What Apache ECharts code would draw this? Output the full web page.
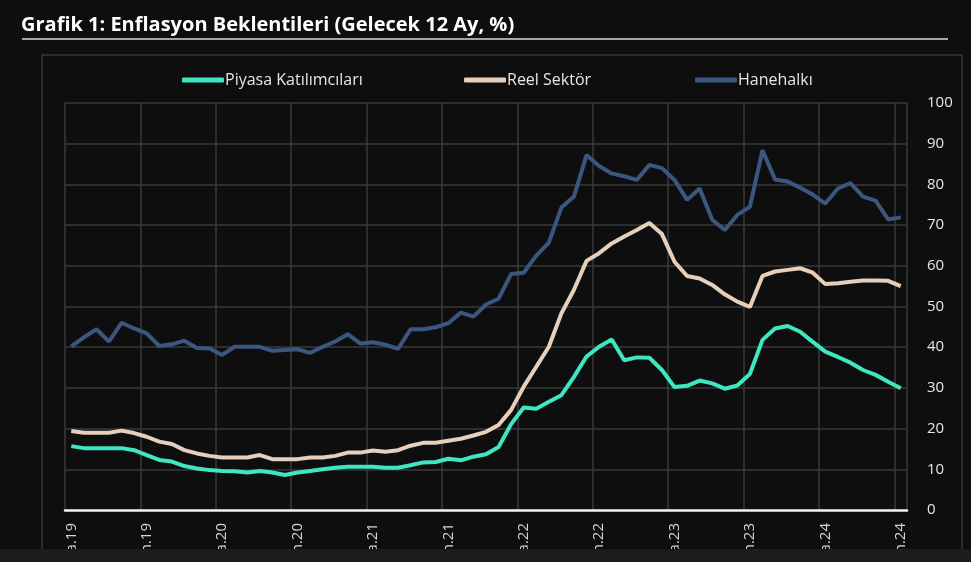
<!DOCTYPE html>
<html>
<head>
<meta charset="utf-8">
<script src="https://cdn.jsdelivr.net/npm/echarts@6/dist/echarts.min.js"></script>
<style>
html,body{margin:0;padding:0;background:#0e0e0e;}
#c{width:971px;height:562px;}
</style>
</head>
<body>
<div id="c"></div>
<script>
const months = ['Oca','Şub','Mar','Nis','May','Haz','Tem','Ağu','Eyl','Eki','Kas','Ara'];
const years = ['19','20','21','22','23','24'];
const categories = [];
for (const y of years) for (const m of months) categories.push(m + '.' + y);
categories.length = 67; // Oca.19 – Tem.24

const piyasa = [15.7,15.2,15.2,15.2,15.2,14.7,13.5,12.3,11.9,10.8,10.2,9.8,9.6,9.5,9.2,9.6,9.2,8.6,9.2,9.6,10.0,10.4,10.6,10.6,
  10.6,10.4,10.4,11.0,11.7,11.8,12.6,12.2,13.1,13.7,15.5,21.1,25.2,24.9,26.6,28.2,32.7,37.7,40.1,41.9,36.8,37.5,37.4,34.4,
  30.2,30.5,31.8,31.1,29.8,30.6,33.4,41.8,44.6,45.2,43.8,41.3,38.9,37.6,36.2,34.4,33.2,31.5,29.9];
const reel = [19.4,19.0,19.0,19.0,19.5,18.9,18.0,16.8,16.2,14.7,13.9,13.3,12.9,12.9,12.9,13.5,12.5,12.5,12.5,12.9,12.9,13.3,14.1,14.1,
  14.6,14.3,14.7,15.8,16.5,16.5,17.0,17.5,18.3,19.2,20.9,24.6,30.3,35.2,40.1,48.3,54.1,61.2,63.1,65.5,67.2,68.8,70.5,67.8,
  61.0,57.5,56.9,55.3,53.0,51.2,49.9,57.5,58.6,59.0,59.4,58.3,55.5,55.7,56.1,56.4,56.4,56.3,55.0];
const hane = [40.2,42.4,44.4,41.4,46.0,44.6,43.4,40.3,40.7,41.6,39.8,39.7,38.1,40.1,40.1,40.1,39.1,39.3,39.5,38.6,40.1,41.4,43.2,40.9,
  41.2,40.6,39.6,44.4,44.4,44.9,45.9,48.5,47.5,50.5,51.9,58.0,58.3,62.5,65.7,74.3,77.0,87.2,84.5,82.7,82.0,81.1,84.8,84.0,
  81.1,76.2,79.0,71.3,68.8,72.5,74.5,88.4,81.2,80.7,79.2,77.5,75.3,79.0,80.3,77.0,76.0,71.4,71.9];
const yTicks = {min: 0, max: 100, interval: 10};

const seriesNames = ['Piyasa Katılımcıları', 'Reel Sektör', 'Hanehalkı'];
const colors = ['#3ee6c1', '#e6cfbb', '#3b5780'];

const chart = echarts.init(document.getElementById('c'));
const legendBase = {
  top: 67, itemWidth: 42, itemHeight: 5, itemGap: 2,
  icon: 'roundRect',
  textStyle: {color: '#e6e6e6', fontSize: 16, fontFamily: 'Open Sans', padding: [0,0,0,-4]}
};
chart.setOption({
  backgroundColor: '#0e0e0e',
  animation: false,
  title: {
    text: 'Grafik 1: Enflasyon Beklentileri (Gelecek 12 Ay, %)',
    left: 16, top: 10,
    textStyle: {color: '#ffffff', fontSize: 20, fontWeight: 'bold', fontFamily: 'Open Sans'}
  },
  legend: [
    Object.assign({}, legendBase, {left: 177, data: [seriesNames[0]]}),
    Object.assign({}, legendBase, {left: 459, data: [seriesNames[1]]}),
    Object.assign({}, legendBase, {left: 690, data: [seriesNames[2]]})
  ],
  grid: {left: 65, right: 64, top: 103, bottom: 52, containLabel: false, outerBoundsMode: 'none'},
  xAxis: {
    type: 'category',
    data: categories,
    boundaryGap: true,
    axisLine: {lineStyle: {color: '#f2f2f2', width: 2.5}},
    axisTick: {show: false, interval: 5},
    axisLabel: {interval: 5, rotate: 90, color: '#d6d6d6', fontSize: 15, margin: 13, fontFamily: 'Open Sans'},
    splitLine: {show: true, interval: 5, lineStyle: {color: '#3a3a3a', width: 1.5}}
  },
  yAxis: {
    type: 'value',
    position: 'right',
    min: yTicks.min, max: yTicks.max, interval: yTicks.interval,
    axisLine: {show: false},
    axisTick: {show: false},
    axisLabel: {color: '#e6e6e6', fontSize: 15, margin: 20, fontFamily: 'Open Sans'},
    splitLine: {lineStyle: {color: '#3a3a3a', width: 1.5}}
  },
  series: [
    {name: seriesNames[0], type: 'line', data: piyasa, symbol: 'none', z: 5,
     lineStyle: {color: colors[0], width: 4}, itemStyle: {color: colors[0]}},
    {name: seriesNames[1], type: 'line', data: reel, symbol: 'none', z: 4,
     lineStyle: {color: colors[1], width: 4}, itemStyle: {color: colors[1]}},
    {name: seriesNames[2], type: 'line', data: hane, symbol: 'none', z: 3,
     lineStyle: {color: colors[2], width: 4}, itemStyle: {color: colors[2]}}
  ],
  graphic: [
    {type: 'line', shape: {x1: 22, y1: 39, x2: 948, y2: 39}, style: {stroke: '#d9d9d9', lineWidth: 1.5}, z: 10},
    {type: 'rect', shape: {x: 42, y: 55, width: 920, height: 520}, style: {fill: 'none', stroke: '#363636', lineWidth: 1.5}, z: 10},
    {type: 'rect', shape: {x: 0, y: 549, width: 971, height: 13}, style: {fill: '#1c1c1c'}, z: 100}
  ]
});
</script>
</body>
</html>
